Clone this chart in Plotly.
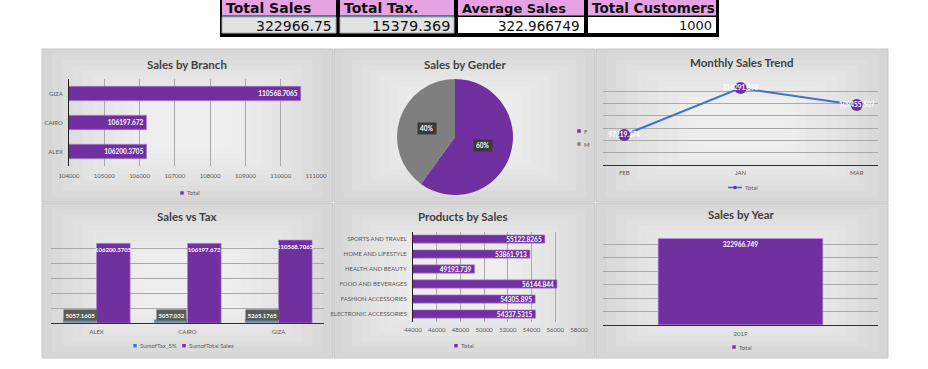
import math
import plotly.graph_objects as go

# ---------------- data ----------------
kpi_labels = ["Total Sales", "Total Tax.", "Average Sales", "Total Customers"]
kpi_values = ["322966.75", "15379.369", "322.966749", "1000"]

branches = ["ALEX", "CAIRO", "GIZA"]
branch_sales = [106200.3705, 106197.672, 110568.7065]
branch_tax = [5057.1605, 5057.032, 5265.1765]

genders = ["F", "M"]
gender_share = [60, 40]

months = ["FEB", "JAN", "MAR"]
month_sales = [97219.374, 116291.868, 109455.507]

products = ["ELECTRONIC ACCESSORIES", "FASHION ACCESSORIES", "FOOD AND BEVERAGES",
            "HEALTH AND BEAUTY", "HOME AND LIFESTYLE", "SPORTS AND TRAVEL"]
product_sales = [54337.5315, 54305.895, 56144.844, 49193.739, 53861.913, 55122.8265]

years = ["2019"]
year_sales = [322966.749]

# ---------------- helpers ----------------
W, H = 928, 369
def px(x): return x / W
def py(y): return 1 - y / H

PURPLE = "#7030a0"
GRAY_PIE = "#7f7f7f"
BLUE = "#4472c4"
TAXC = "#6a84aa"
TXT = "#595959"
TITLE = "#404040"
FONT = "Lato"

shapes = []
annotations = []

def rect(x0, y0, x1, y1, fill, line=None, lw=0, layer="below", opacity=1):
    shapes.append(dict(type="rect", xref="paper", yref="paper",
                       x0=px(x0), x1=px(x1), y0=py(y1), y1=py(y0),
                       fillcolor=fill, layer=layer, opacity=opacity,
                       line=dict(width=lw, color=line or "rgba(0,0,0,0)")))

def panel(x0, y0, x1, y1):
    rect(x0, y0, x1, y1, "#d6d6d6", line="#c8c8c8", lw=1)
    w, h = x1 - x0, y1 - y0
    for k in range(1, 11):
        f = 0.035 * k
        rect(x0 + w * f, y0 + h * f, x1 - w * f, y1 - h * f, "rgba(255,255,255,0.10)")

def title(text, x, y):
    annotations.append(dict(text=f"<b>{text}</b>", xref="paper", yref="paper",
                            x=px(x), y=py(y), xanchor="center", yanchor="middle",
                            showarrow=False, font=dict(family=FONT, size=11.5, color=TITLE)))

def text_at(text, x, y, size=6, color=TXT, anchor="left"):
    annotations.append(dict(text=text, xref="paper", yref="paper", x=px(x), y=py(y),
                            xanchor=anchor, yanchor="middle", showarrow=False,
                            font=dict(family=FONT, size=size, color=color)))

def legend_square(x, y, color, label, s=3.4):
    rect(x - s / 2, y - s / 2, x + s / 2, y + s / 2, color, layer="above")
    text_at(label, x + s / 2 + 1.2, y)

def legend_line(x0, x1, y, label):
    shapes.append(dict(type="line", xref="paper", yref="paper", x0=px(x0), x1=px(x1),
                       y0=py(y), y1=py(y), line=dict(color=BLUE, width=1.6), layer="above"))
    shapes.append(dict(type="circle", xref="paper", yref="paper",
                       x0=px((x0 + x1) / 2 - 1.8), x1=px((x0 + x1) / 2 + 1.8),
                       y0=py(y + 1.8), y1=py(y - 1.8), fillcolor=PURPLE,
                       line=dict(width=0), layer="above"))
    text_at(label, x1 + 0.5, y)

# ---------------- KPI table ----------------
rect(220, 0, 719, 37, "#000000")
cells = [(222, 336), (340, 454), (458, 584), (588, 716)]
hdr_sizes = [14.0, 14.0, 13.0, 13.5]
val_sizes = [14.0, 14.5, 13.5, 13.0]
for i, (x0, x1) in enumerate(cells):
    rect(x0, 0, x1, 15.5, "#e6a3e4")
    if i < 2:
        rect(x0, 17, x1, 33, "#e2e2e2", line="#a8a8a8", lw=1)
        shapes.append(dict(type="line", xref="paper", yref="paper", x0=px(x0), x1=px(x1),
                           y0=py(16.2), y1=py(16.2), line=dict(color="#6aa6b0", width=1)))
    else:
        rect(x0, 17, x1, 33, "#ffffff")
    annotations.append(dict(text=f"<b>{kpi_labels[i]}</b>", xref="paper", yref="paper",
                            x=px(x0 + 2), y=py(8.3), xanchor="left", yanchor="middle",
                            showarrow=False,
                            font=dict(family="DejaVu Sans", size=hdr_sizes[i], color="#111111")))
    annotations.append(dict(text=kpi_values[i], xref="paper", yref="paper",
                            x=px(x1 - 2), y=py(26), xanchor="right", yanchor="middle",
                            showarrow=False,
                            font=dict(family="DejaVu Sans", size=val_sizes[i], color="#111111")))

# ---------------- panels ----------------
P = {
    1: (42, 49, 333, 202), 2: (334, 49, 595, 202), 3: (596, 49, 888, 202),
    4: (42, 203, 333, 358), 5: (334, 203, 595, 358), 6: (596, 203, 888, 358),
}
for k in P:
    panel(*P[k])

title("Sales by Branch", 187, 64)
title("Sales by Gender", 465, 64)
title("Monthly Sales Trend", 741, 62)
title("Sales vs Tax", 187, 216)
title("Products by Sales", 463, 216)
title("Sales by Year", 741, 214)

fig = go.Figure()

lblfont = dict(family=FONT, size=6.5, color="white", weight="bold")
lblfont_small = dict(family=FONT, size=6, color="white", weight="bold")
tickfont = dict(family=FONT, size=6, color=TXT)

# 1. Sales by Branch
fig.add_trace(go.Bar(
    y=branches, x=branch_sales, orientation="h", name="Total",
    marker=dict(color=PURPLE, line=dict(color="#b58ad6", width=0.6)), width=0.5,
    text=[str(v) for v in branch_sales], textposition="inside", insidetextanchor="end",
    textangle=0, constraintext="none", textfont=lblfont,
    xaxis="x", yaxis="y", showlegend=False))
legend_square(182, 193, PURPLE, "Total")

# 2. Pie
cx, cy, R = 455, 137, 58
fig.add_trace(go.Pie(
    labels=genders, values=gender_share, sort=False, direction="clockwise", rotation=0,
    marker=dict(colors=[PURPLE, GRAY_PIE]), textinfo="none", hoverinfo="label+percent",
    domain=dict(x=[px(cx - R), px(cx + R)], y=[py(cy + R), py(cy - R)]),
    showlegend=False))
tot = sum(gender_share)
cum = 0
for g, v in zip(genders, gender_share):
    mid = math.radians((cum + v / 2) / tot * 360)
    cum += v
    lx = cx + 0.5 * R * math.sin(mid)
    ly = cy - 0.5 * R * math.cos(mid)
    annotations.append(dict(text=f"<b>{round(v / tot * 100)}%</b>", xref="paper", yref="paper",
                            x=px(lx), y=py(ly), xanchor="center", yanchor="middle",
                            showarrow=False, bgcolor="#3a3a3a", borderpad=2,
                            font=dict(family=FONT, size=6.5, color="white")))
legend_square(579, 131, PURPLE, "F")
legend_square(579, 144, GRAY_PIE, "M")

# 3. Monthly trend
fig.add_trace(go.Scatter(
    x=months, y=month_sales, mode="lines+markers+text", name="Total",
    line=dict(color=BLUE, width=2), marker=dict(color=PURPLE, size=12),
    text=[str(v) for v in month_sales], textposition="middle center", textfont=lblfont,
    xaxis="x3", yaxis="y3", showlegend=False, cliponaxis=False))
legend_line(728, 742, 187.5, "Total")

# 4. Sales vs Tax
fig.add_trace(go.Bar(
    x=branches, y=branch_tax, name="SumofTax_5%", marker=dict(color=TAXC),
    xaxis="x4", yaxis="y4", showlegend=False, offsetgroup="a"))
fig.add_trace(go.Bar(
    x=branches, y=branch_sales, name="SumofTotal Sales",
    marker=dict(color=PURPLE, line=dict(color="#b58ad6", width=0.6)),
    text=[str(v) for v in branch_sales], textposition="inside", insidetextanchor="end",
    textangle=0, constraintext="none", textfont=lblfont_small,
    xaxis="x4", yaxis="y4", showlegend=False, offsetgroup="b"))
for b, t in zip(branches, branch_tax):
    annotations.append(dict(text=f"<b>{t}</b>", xref="x4", yref="y4", x=b, y=0,
                            xshift=-16.5, yshift=2, xanchor="center", yanchor="bottom",
                            showarrow=False, bgcolor="#5a5a5a", borderpad=1.5,
                            font=dict(family=FONT, size=6, color="white")))
legend_square(135, 345.7, BLUE, "SumofTax_5%")
legend_square(184, 345.7, PURPLE, "SumofTotal Sales")

# 5. Products by Sales
fig.add_trace(go.Bar(
    y=products, x=product_sales, orientation="h", name="Total",
    marker=dict(color=PURPLE, line=dict(color="#b58ad6", width=0.6)), width=0.55,
    text=[str(v) for v in product_sales], textposition="inside", insidetextanchor="end",
    textangle=0, constraintext="none", textfont=lblfont,
    xaxis="x5", yaxis="y5", showlegend=False))
legend_square(456, 345.7, PURPLE, "Total")

# 6. Sales by Year
fig.add_trace(go.Bar(
    x=years, y=year_sales, name="Total",
    marker=dict(color=PURPLE, line=dict(color="#d6b8ee", width=0.8)), width=0.6,
    text=[str(v) for v in year_sales], textposition="inside", insidetextanchor="end",
    textangle=0, constraintext="none", textfont=lblfont,
    xaxis="x6", yaxis="y6", showlegend=False))
legend_square(734, 347, PURPLE, "Total")

GRID = "#a9a9a9"
def dx(a, b): return [px(a), px(b)]
def dy(top, bottom): return [py(bottom), py(top)]

common_cat = dict(showgrid=False, ticks="", tickfont=tickfont, fixedrange=True)

layout = dict(
    width=W, height=H, margin=dict(l=0, r=0, t=0, b=0, autoexpand=False),
    paper_bgcolor="white", plot_bgcolor="rgba(0,0,0,0)", showlegend=False,
    font=dict(family=FONT, color=TXT), barmode="group", bargap=0.26, bargroupgap=0,
    shapes=shapes, annotations=annotations,
    xaxis=dict(domain=dx(69, 316), anchor="y", range=[104000, 111000], dtick=1000,
               showgrid=True, gridcolor=GRID, gridwidth=1, zeroline=False, showline=False,
               tickfont=tickfont, ticks="", tickformat="d", fixedrange=True,
               ticklabelstandoff=5),
    yaxis=dict(domain=dy(79, 166), anchor="x", type="category", showline=True,
               linecolor="#202020", linewidth=1, ticklabelstandoff=4, **common_cat),
    xaxis3=dict(domain=dx(603, 878), anchor="y3", type="category", showline=True,
                linecolor="#303030", linewidth=1.2, ticklabelstandoff=2, **common_cat),
    yaxis3=dict(domain=dy(79, 165), anchor="x3", range=[85000, 120000], dtick=5000,
                showgrid=True, gridcolor=GRID, showticklabels=False, zeroline=False,
                fixedrange=True),
    xaxis4=dict(domain=dx(51, 324), anchor="y4", type="category", showline=True,
                linecolor="#303030", linewidth=1.2, ticklabelstandoff=3, **common_cat),
    yaxis4=dict(domain=dy(233, 323), anchor="x4", range=[0, 120000], dtick=20000,
                showgrid=True, gridcolor=GRID, showticklabels=False, zeroline=False,
                fixedrange=True),
    xaxis5=dict(domain=dx(413, 579), anchor="y5", range=[44000, 58000], dtick=2000,
                showgrid=True, gridcolor=GRID, zeroline=False, showline=False,
                tickfont=tickfont, ticks="", tickformat="d", fixedrange=True,
                ticklabelstandoff=3),
    yaxis5=dict(domain=dy(231.5, 321.5), anchor="x5", type="category", showline=True,
                linecolor="#202020", linewidth=1, ticklabelstandoff=4, **common_cat),
    xaxis6=dict(domain=dx(603, 878), anchor="y6", type="category", showline=True,
                linecolor="#303030", linewidth=1.2, ticklabelstandoff=3, **common_cat),
    yaxis6=dict(domain=dy(231, 325), anchor="x6", range=[0, 350000], dtick=50000,
                showgrid=True, gridcolor=GRID, showticklabels=False, zeroline=False,
                fixedrange=True),
)

fig.update_layout(**layout)
fig.write_html("out.html", config={"displayModeBar": False},
               post_script="document.body.style.margin='0';"
                           "document.body.style.overflow='hidden';")
